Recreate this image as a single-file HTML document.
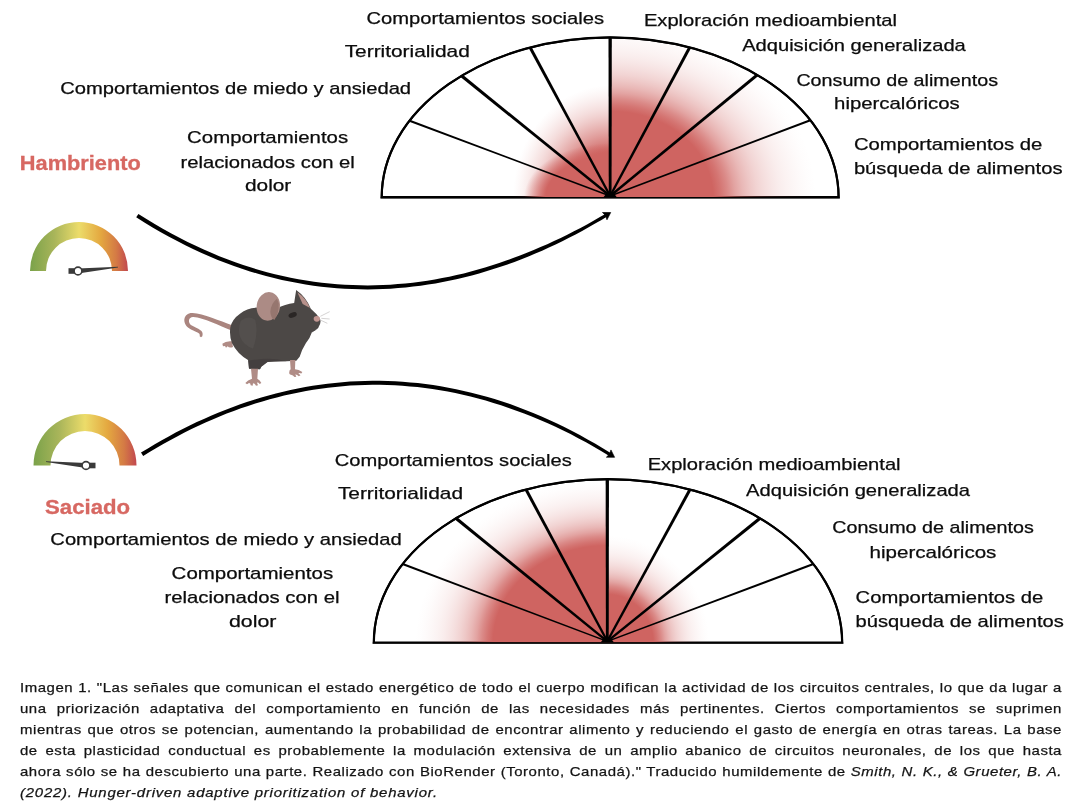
<!DOCTYPE html>
<html lang="es"><head><meta charset="utf-8"><title>Imagen 1</title>
<style>
html,body{margin:0;padding:0;background:#fff;}
body{width:1080px;height:801px;position:relative;overflow:hidden;font-family:"Liberation Sans",sans-serif;}
svg text{font-family:"Liberation Sans",sans-serif;}
.lb{font-size:16.4px;fill:#0c0c0c;stroke:#0c0c0c;stroke-width:0.25px;}
.hd{font-size:19.5px;font-weight:bold;fill:#d76862;stroke:#d76862;stroke-width:0.3px;}
.cl{position:absolute;left:20px;width:947.27px;transform:scaleX(1.1);transform-origin:0 0;font-size:13.6px;line-height:21px;height:21px;color:#141414;white-space:nowrap;text-align:justify;text-align-last:justify;letter-spacing:0.5px;-webkit-text-stroke:0.25px #141414;}
.cl.last{text-align:left;text-align-last:left;letter-spacing:0.7px;}
#wrap{position:absolute;left:0;top:0;width:1080px;height:801px;will-change:transform;transform:translateZ(0);background:#fff;}
</style></head><body><div id="wrap">
<svg width="1080" height="801" viewBox="0 0 1080 801" style="position:absolute;left:0;top:0">
<defs>
<radialGradient id="ftB0" gradientUnits="userSpaceOnUse" cx="0" cy="0" r="1" gradientTransform="translate(610.15 197.2) scale(206 172)"><stop offset="0.000" stop-color="#cf6461" stop-opacity="1.000"/><stop offset="0.500" stop-color="#cf6461" stop-opacity="1.000"/><stop offset="0.536" stop-color="#cf6461" stop-opacity="0.890"/><stop offset="0.571" stop-color="#cf6461" stop-opacity="0.752"/><stop offset="0.607" stop-color="#cf6461" stop-opacity="0.588"/><stop offset="0.643" stop-color="#cf6461" stop-opacity="0.460"/><stop offset="0.679" stop-color="#cf6461" stop-opacity="0.361"/><stop offset="0.714" stop-color="#cf6461" stop-opacity="0.279"/><stop offset="0.750" stop-color="#cf6461" stop-opacity="0.216"/><stop offset="0.786" stop-color="#cf6461" stop-opacity="0.162"/><stop offset="0.821" stop-color="#cf6461" stop-opacity="0.117"/><stop offset="0.857" stop-color="#cf6461" stop-opacity="0.082"/><stop offset="0.893" stop-color="#cf6461" stop-opacity="0.055"/><stop offset="0.929" stop-color="#cf6461" stop-opacity="0.030"/><stop offset="0.964" stop-color="#cf6461" stop-opacity="0.011"/><stop offset="1.000" stop-color="#cf6461" stop-opacity="0.000"/></radialGradient>
<radialGradient id="ftS0" gradientUnits="userSpaceOnUse" cx="0" cy="0" r="1" gradientTransform="translate(610.15 197.2) scale(97 112)"><stop offset="0.000" stop-color="#cf6461" stop-opacity="1.000"/><stop offset="0.400" stop-color="#cf6461" stop-opacity="1.000"/><stop offset="0.443" stop-color="#cf6461" stop-opacity="0.894"/><stop offset="0.486" stop-color="#cf6461" stop-opacity="0.792"/><stop offset="0.529" stop-color="#cf6461" stop-opacity="0.695"/><stop offset="0.571" stop-color="#cf6461" stop-opacity="0.604"/><stop offset="0.614" stop-color="#cf6461" stop-opacity="0.518"/><stop offset="0.657" stop-color="#cf6461" stop-opacity="0.433"/><stop offset="0.700" stop-color="#cf6461" stop-opacity="0.352"/><stop offset="0.743" stop-color="#cf6461" stop-opacity="0.277"/><stop offset="0.786" stop-color="#cf6461" stop-opacity="0.213"/><stop offset="0.829" stop-color="#cf6461" stop-opacity="0.160"/><stop offset="0.871" stop-color="#cf6461" stop-opacity="0.111"/><stop offset="0.914" stop-color="#cf6461" stop-opacity="0.067"/><stop offset="0.957" stop-color="#cf6461" stop-opacity="0.029"/><stop offset="1.000" stop-color="#cf6461" stop-opacity="0.000"/></radialGradient>
<radialGradient id="ftS1" gradientUnits="userSpaceOnUse" cx="0" cy="0" r="1" gradientTransform="translate(610.15 197.2) scale(86 54)"><stop offset="0.000" stop-color="#cf6461" stop-opacity="1.000"/><stop offset="0.750" stop-color="#cf6461" stop-opacity="1.000"/><stop offset="0.768" stop-color="#cf6461" stop-opacity="0.929"/><stop offset="0.786" stop-color="#cf6461" stop-opacity="0.857"/><stop offset="0.804" stop-color="#cf6461" stop-opacity="0.786"/><stop offset="0.821" stop-color="#cf6461" stop-opacity="0.714"/><stop offset="0.839" stop-color="#cf6461" stop-opacity="0.643"/><stop offset="0.857" stop-color="#cf6461" stop-opacity="0.571"/><stop offset="0.875" stop-color="#cf6461" stop-opacity="0.500"/><stop offset="0.893" stop-color="#cf6461" stop-opacity="0.429"/><stop offset="0.911" stop-color="#cf6461" stop-opacity="0.357"/><stop offset="0.929" stop-color="#cf6461" stop-opacity="0.286"/><stop offset="0.946" stop-color="#cf6461" stop-opacity="0.214"/><stop offset="0.964" stop-color="#cf6461" stop-opacity="0.143"/><stop offset="0.982" stop-color="#cf6461" stop-opacity="0.071"/><stop offset="1.000" stop-color="#cf6461" stop-opacity="0.000"/></radialGradient>
<clipPath id="ftclip"><path d="M381.7 197.2 A228.45 159.9 0 0 1 838.5999999999999 197.2 Z"/></clipPath>
</defs>
<path d="M381.7 197.2 A228.45 159.9 0 0 1 838.5999999999999 197.2 Z" fill="none" stroke="#000" stroke-width="2.2" stroke-linejoin="miter"/>
<g clip-path="url(#ftclip)">
<rect x="610.15" y="37.29999999999998" width="230.45" height="159.9" fill="url(#ftB0)"/>
<rect x="379.7" y="37.29999999999998" width="230.45" height="159.9" fill="url(#ftS0)"/>
<rect x="379.7" y="37.29999999999998" width="230.45" height="159.9" fill="url(#ftS1)"/>
</g>
<path d="M381.7 197.2 A228.45 159.9 0 0 1 838.5999999999999 197.2" fill="none" stroke="#000" stroke-width="2.0"/>
<line x1="380.45" y1="197.85" x2="839.8499999999999" y2="197.85" stroke="#000" stroke-width="1.3"/>
<polygon points="610.40,195.34 409.96,119.63 409.19,121.69 609.90,196.66" fill="#000"/>
<polygon points="610.87,195.11 462.49,74.55 460.47,77.04 609.43,196.89" fill="#000"/>
<polygon points="611.16,195.45 531.47,46.71 528.82,48.14 609.14,196.55" fill="#000"/>
<polygon points="611.55,196.00 611.80,37.30 608.50,37.30 608.75,196.00" fill="#000"/>
<polygon points="611.16,196.54 691.10,48.04 688.46,46.62 609.14,195.46" fill="#000"/>
<polygon points="610.88,196.89 758.32,76.12 756.28,73.65 609.42,195.11" fill="#000"/>
<polygon points="610.40,196.65 810.73,121.20 809.95,119.14 609.90,195.35" fill="#000"/>
<path d="M603.65 196.89999999999998 Q607.15 192.2 610.15 191.2 Q613.15 192.2 616.65 196.89999999999998 Z" fill="#000"/>
<defs>
<radialGradient id="fbB0" gradientUnits="userSpaceOnUse" cx="0" cy="0" r="1" gradientTransform="translate(607.3 642.5) scale(192 163)"><stop offset="0.000" stop-color="#cf6461" stop-opacity="1.000"/><stop offset="0.595" stop-color="#cf6461" stop-opacity="1.000"/><stop offset="0.624" stop-color="#cf6461" stop-opacity="0.890"/><stop offset="0.653" stop-color="#cf6461" stop-opacity="0.752"/><stop offset="0.682" stop-color="#cf6461" stop-opacity="0.588"/><stop offset="0.711" stop-color="#cf6461" stop-opacity="0.460"/><stop offset="0.740" stop-color="#cf6461" stop-opacity="0.361"/><stop offset="0.769" stop-color="#cf6461" stop-opacity="0.279"/><stop offset="0.797" stop-color="#cf6461" stop-opacity="0.216"/><stop offset="0.826" stop-color="#cf6461" stop-opacity="0.162"/><stop offset="0.855" stop-color="#cf6461" stop-opacity="0.117"/><stop offset="0.884" stop-color="#cf6461" stop-opacity="0.082"/><stop offset="0.913" stop-color="#cf6461" stop-opacity="0.055"/><stop offset="0.942" stop-color="#cf6461" stop-opacity="0.030"/><stop offset="0.971" stop-color="#cf6461" stop-opacity="0.011"/><stop offset="1.000" stop-color="#cf6461" stop-opacity="0.000"/></radialGradient>
<radialGradient id="fbS0" gradientUnits="userSpaceOnUse" cx="0" cy="0" r="1" gradientTransform="translate(607.3 642.5) scale(102 107)"><stop offset="0.000" stop-color="#cf6461" stop-opacity="1.000"/><stop offset="0.450" stop-color="#cf6461" stop-opacity="1.000"/><stop offset="0.489" stop-color="#cf6461" stop-opacity="0.890"/><stop offset="0.529" stop-color="#cf6461" stop-opacity="0.752"/><stop offset="0.568" stop-color="#cf6461" stop-opacity="0.588"/><stop offset="0.607" stop-color="#cf6461" stop-opacity="0.460"/><stop offset="0.646" stop-color="#cf6461" stop-opacity="0.361"/><stop offset="0.686" stop-color="#cf6461" stop-opacity="0.279"/><stop offset="0.725" stop-color="#cf6461" stop-opacity="0.216"/><stop offset="0.764" stop-color="#cf6461" stop-opacity="0.162"/><stop offset="0.804" stop-color="#cf6461" stop-opacity="0.117"/><stop offset="0.843" stop-color="#cf6461" stop-opacity="0.082"/><stop offset="0.882" stop-color="#cf6461" stop-opacity="0.055"/><stop offset="0.921" stop-color="#cf6461" stop-opacity="0.030"/><stop offset="0.961" stop-color="#cf6461" stop-opacity="0.011"/><stop offset="1.000" stop-color="#cf6461" stop-opacity="0.000"/></radialGradient>
<clipPath id="fbclip"><path d="M373.85 642.5 A234.15 163.3 0 0 1 842.15 642.5 Z"/></clipPath>
</defs>
<path d="M373.85 642.5 A234.15 163.3 0 0 1 842.15 642.5 Z" fill="none" stroke="#000" stroke-width="2.2" stroke-linejoin="miter"/>
<g clip-path="url(#fbclip)">
<rect x="371.15" y="479.2" width="236.15" height="163.3" fill="url(#fbB0)"/>
<rect x="607.3" y="479.2" width="236.15" height="163.3" fill="url(#fbS0)"/>
</g>
<path d="M373.85 642.5 A234.15 163.3 0 0 1 842.15 642.5" fill="none" stroke="#000" stroke-width="2.0"/>
<line x1="372.6" y1="643.15" x2="843.4" y2="643.15" stroke="#000" stroke-width="1.3"/>
<polygon points="607.55,640.65 403.00,563.05 402.23,565.11 607.05,641.95" fill="#000"/>
<polygon points="608.03,640.41 456.94,517.08 454.92,519.57 606.57,642.19" fill="#000"/>
<polygon points="608.31,640.76 527.32,488.83 524.68,490.25 606.29,641.84" fill="#000"/>
<polygon points="608.70,641.30 608.95,479.20 605.65,479.20 605.90,641.30" fill="#000"/>
<polygon points="608.31,641.85 691.32,490.26 688.68,488.82 606.29,640.75" fill="#000"/>
<polygon points="608.02,642.20 761.07,519.57 759.06,517.08 606.58,640.40" fill="#000"/>
<polygon points="607.55,641.96 813.77,565.11 813.00,563.05 607.05,640.64" fill="#000"/>
<path d="M600.8 642.2 Q604.3 637.5 607.3 636.5 Q610.3 637.5 613.8 642.2 Z" fill="#000"/>
<polygon points="136.2,217.3 144.4,222.5 152.6,227.5 160.8,232.2 169.0,236.8 177.2,241.1 185.3,245.3 193.5,249.2 201.6,253.0 209.7,256.5 217.8,259.9 225.9,263.0 233.9,266.0 242.0,268.8 250.0,271.4 258.0,273.8 266.0,276.0 274.0,278.1 281.9,279.9 289.8,281.6 297.7,283.1 305.6,284.5 313.5,285.7 321.3,286.7 329.1,287.5 336.9,288.2 344.6,288.7 352.4,289.1 360.1,289.3 367.7,289.4 375.4,289.3 383.0,289.1 390.6,288.7 398.1,288.1 405.7,287.5 413.2,286.6 420.6,285.7 428.1,284.6 435.5,283.4 442.8,282.0 450.2,280.6 457.5,279.0 464.7,277.2 471.9,275.4 479.1,273.4 486.3,271.3 493.4,269.1 500.5,266.8 507.5,264.4 514.5,261.9 521.5,259.3 528.4,256.5 535.3,253.6 542.1,250.7 548.9,247.6 555.6,244.4 562.3,241.2 569.0,237.8 575.6,234.4 582.1,230.9 588.6,227.3 595.1,223.6 601.5,219.9 607.9,216.0 606.3,213.4 599.9,217.1 593.5,220.8 587.0,224.4 580.5,227.9 573.9,231.3 567.3,234.7 560.7,237.9 554.0,241.1 547.3,244.2 540.5,247.1 533.7,250.0 526.9,252.8 520.0,255.5 513.1,258.1 506.2,260.6 499.2,263.0 492.2,265.3 485.1,267.5 478.0,269.6 470.9,271.5 463.8,273.4 456.6,275.1 449.3,276.7 442.1,278.1 434.8,279.5 427.4,280.7 420.1,281.7 412.7,282.7 405.3,283.5 397.8,284.1 390.3,284.7 382.8,285.1 375.3,285.3 367.7,285.4 360.1,285.3 352.5,285.1 344.9,284.7 337.2,284.2 329.5,283.5 321.8,282.7 314.0,281.7 306.2,280.5 298.4,279.2 290.6,277.7 282.8,276.0 274.9,274.2 267.0,272.2 259.1,269.9 251.2,267.6 243.2,265.0 235.3,262.2 227.3,259.3 219.3,256.2 211.3,252.8 203.2,249.3 195.2,245.6 187.1,241.7 179.0,237.6 170.9,233.3 162.8,228.7 154.7,224.0 146.5,219.1 138.4,213.9" fill="#000"/>
<path d="M0 0 L-7 -4.3 L-6 0 L-7 4.3 Z" fill="#000" stroke="#000" stroke-width="0.6" stroke-linejoin="round" transform="translate(610.7 212.5) rotate(-31.5)"/>
<polygon points="143.2,456.0 150.0,451.8 156.8,447.7 163.7,443.7 170.6,439.9 177.6,436.2 184.5,432.6 191.5,429.1 198.5,425.8 205.5,422.5 212.6,419.4 219.6,416.5 226.7,413.6 233.8,410.9 240.9,408.3 248.1,405.9 255.3,403.6 262.4,401.4 269.7,399.3 276.9,397.4 284.1,395.6 291.4,393.9 298.7,392.4 306.0,391.0 313.3,389.8 320.6,388.7 328.0,387.7 335.3,386.9 342.7,386.2 350.1,385.6 357.5,385.2 365.0,384.9 372.4,384.8 379.9,384.8 387.4,385.0 394.9,385.3 402.4,385.8 409.9,386.4 417.4,387.1 425.0,388.0 432.5,389.1 440.1,390.2 447.7,391.6 455.3,393.1 462.9,394.8 470.5,396.6 478.1,398.5 485.7,400.6 493.4,402.9 501.0,405.3 508.7,407.9 516.4,410.7 524.1,413.5 531.8,416.6 539.5,419.7 547.2,423.1 555.0,426.6 562.7,430.3 570.5,434.1 578.2,438.2 586.0,442.3 593.8,446.7 601.5,451.2 609.3,455.9 611.0,453.2 603.2,448.4 595.4,443.8 587.6,439.4 579.8,435.1 572.1,431.0 564.3,427.1 556.5,423.3 548.8,419.7 541.0,416.3 533.2,413.0 525.5,409.9 517.8,406.9 510.0,404.1 502.3,401.5 494.6,399.1 486.8,396.8 479.1,394.7 471.4,392.7 463.8,390.9 456.1,389.2 448.4,387.7 440.7,386.3 433.1,385.1 425.5,384.0 417.8,383.1 410.2,382.4 402.6,381.8 395.1,381.3 387.5,381.0 379.9,380.8 372.4,380.8 364.9,380.9 357.4,381.2 349.9,381.6 342.4,382.2 334.9,382.9 327.5,383.7 320.1,384.7 312.7,385.8 305.3,387.1 297.9,388.5 290.5,390.0 283.2,391.7 275.9,393.5 268.6,395.5 261.3,397.5 254.1,399.7 246.8,402.1 239.6,404.6 232.4,407.2 225.2,409.9 218.1,412.8 211.0,415.8 203.9,418.9 196.8,422.1 189.7,425.5 182.7,429.0 175.7,432.6 168.7,436.4 161.8,440.3 154.8,444.3 147.9,448.4 141.0,452.6" fill="#000"/>
<path d="M0 0 L-7 -4.3 L-6 0 L-7 4.3 Z" fill="#000" stroke="#000" stroke-width="0.6" stroke-linejoin="round" transform="translate(614.6 457.3) rotate(32.2)"/>
<defs><linearGradient id="g1g" gradientUnits="userSpaceOnUse" x1="30" y1="0" x2="128" y2="0"><stop offset="0" stop-color="#7aa24a"/><stop offset="0.25" stop-color="#a9b55a"/><stop offset="0.5" stop-color="#ecdc6a"/><stop offset="0.72" stop-color="#e4a840"/><stop offset="0.88" stop-color="#d47a45"/><stop offset="1" stop-color="#c2484f"/></linearGradient></defs>
<path d="M30 271 A49 49 0 0 1 128 271 L112 271 A33 33 0 0 0 46 271 Z" fill="url(#g1g)"/>
<path d="M78 268.4 L118 266.8 L118 267.6 L78 273.6 Z" fill="#3a3a3a"/>
<rect x="68.5" y="268.2" width="6.5" height="5.6" fill="#3a3a3a"/>
<circle cx="78" cy="271" r="3.9" fill="#fff" stroke="#3a3a3a" stroke-width="1.6"/>
<defs><linearGradient id="g2g" gradientUnits="userSpaceOnUse" x1="33.5" y1="0" x2="136.5" y2="0"><stop offset="0" stop-color="#7aa24a"/><stop offset="0.25" stop-color="#a9b55a"/><stop offset="0.5" stop-color="#ecdc6a"/><stop offset="0.72" stop-color="#e4a840"/><stop offset="0.88" stop-color="#d47a45"/><stop offset="1" stop-color="#c2484f"/></linearGradient></defs>
<path d="M33.5 465.5 A51.5 51.5 0 0 1 136.5 465.5 L119.5 465.5 A34.5 34.5 0 0 0 50.5 465.5 Z" fill="url(#g2g)"/>
<path d="M86 462.9 L46 461.3 L46 462.1 L86 468.1 Z" fill="#3a3a3a"/>
<rect x="89" y="462.7" width="6.5" height="5.6" fill="#3a3a3a"/>
<circle cx="86" cy="465.5" r="3.9" fill="#fff" stroke="#3a3a3a" stroke-width="1.6"/>
<g transform="translate(170 270) scale(0.166667)">
<path d="M372 332 C300 305 200 262 135 258 C80 256 70 318 112 348 C150 374 186 372 178 398 Q186 408 194 398 C206 360 168 356 128 332 C104 314 112 280 140 282 C200 286 300 335 366 362 Z" fill="#aa857f"/>
<path d="M314 443 Q335 424 372 428 L378 462 Q356 470 346 458 L336 466 L330 456 L318 458 Z" fill="#b08c86"/>
<path d="M362 345 Q372 295 420 262 Q470 222 540 226 Q600 232 640 232 Q690 205 745 198 L757 120 Q815 160 845 232 Q880 262 900 292 Q910 318 890 345 Q872 362 852 372 Q840 410 815 440 Q790 480 778 520 L758 545 L700 548 Q640 545 585 552 L548 580 L540 596 L474 592 L468 540 Q405 505 372 440 Q355 395 362 345 Z" fill="#4c4846"/>
<path d="M425 305 Q470 268 512 300 Q532 380 498 472 Q440 450 420 400 Q405 350 425 305 Z" fill="#5a5553" opacity="0.5"/>
<path d="M470 545 Q600 520 700 548 L585 552 L548 580 L540 596 L474 592 Z" fill="#3f3b3a" opacity="0.6"/>
<ellipse cx="590" cy="218" rx="70" ry="86" fill="#ac8b85" transform="rotate(8 590 218)"/>
<path d="M642 172 Q606 198 602 250 Q604 285 626 300 Q656 260 652 200 Z" fill="#96766f"/>
<path d="M764 133 Q818 170 840 228 L796 204 Z" fill="#b7918b"/>
<ellipse cx="736" cy="270" rx="26" ry="15" fill="#2a2625" transform="rotate(-22 736 270)"/>
<ellipse cx="881" cy="293" rx="19" ry="17" fill="#c29691"/>
<path d="M852 372 Q872 362 890 345" stroke="#35312f" stroke-width="4" fill="none"/>
<path d="M902 278 L958 250 M908 290 L958 294 M906 302 L944 320" stroke="#9a9593" stroke-width="2.5" fill="none"/>
<path d="M720 540 L752 540 L750 596 Q772 598 794 612 L788 621 Q777 616 770 619 L783 632 L773 637 Q760 625 752 627 L758 640 L747 642 Q738 629 726 628 Q712 626 716 610 Q716 600 724 596 Z" fill="#b08c86"/>
<path d="M486 592 L528 592 L524 652 Q540 660 548 678 L538 684 Q530 674 522 676 L528 692 L516 694 Q508 680 498 680 L496 694 L484 692 Q484 678 474 678 L462 686 L452 678 Q466 660 492 652 Z" fill="#b08c86"/>
</g>

<text class="lb" x="366.4" y="23.9" textLength="237.7" lengthAdjust="spacingAndGlyphs">Comportamientos sociales</text>
<text class="lb" x="344.7" y="57.0" textLength="125.1" lengthAdjust="spacingAndGlyphs">Territorialidad</text>
<text class="lb" x="60.2" y="94.2" textLength="350.9" lengthAdjust="spacingAndGlyphs">Comportamientos de miedo y ansiedad</text>
<text class="lb" x="187.1" y="143.2" textLength="161.0" lengthAdjust="spacingAndGlyphs">Comportamientos</text>
<text class="lb" x="180.5" y="167.5" textLength="174.3" lengthAdjust="spacingAndGlyphs">relacionados con el</text>
<text class="lb" x="245.0" y="191.2" textLength="46.3" lengthAdjust="spacingAndGlyphs">dolor</text>
<text class="lb" x="643.9" y="25.7" textLength="253.1" lengthAdjust="spacingAndGlyphs">Exploración medioambiental</text>
<text class="lb" x="742.2" y="50.7" textLength="223.6" lengthAdjust="spacingAndGlyphs">Adquisición generalizada</text>
<text class="lb" x="796.4" y="85.6" textLength="201.6" lengthAdjust="spacingAndGlyphs">Consumo de alimentos</text>
<text class="lb" x="834.1" y="108.9" textLength="125.6" lengthAdjust="spacingAndGlyphs">hipercalóricos</text>
<text class="lb" x="853.9" y="150.3" textLength="188.5" lengthAdjust="spacingAndGlyphs">Comportamientos de</text>
<text class="lb" x="853.9" y="173.8" textLength="208.6" lengthAdjust="spacingAndGlyphs">búsqueda de alimentos</text>
<text class="lb" x="334.7" y="465.8" textLength="237.1" lengthAdjust="spacingAndGlyphs">Comportamientos sociales</text>
<text class="lb" x="337.9" y="498.7" textLength="125.1" lengthAdjust="spacingAndGlyphs">Territorialidad</text>
<text class="lb" x="50.3" y="545.4" textLength="351.4" lengthAdjust="spacingAndGlyphs">Comportamientos de miedo y ansiedad</text>
<text class="lb" x="171.6" y="578.7" textLength="161.6" lengthAdjust="spacingAndGlyphs">Comportamientos</text>
<text class="lb" x="164.5" y="603.0" textLength="175.0" lengthAdjust="spacingAndGlyphs">relacionados con el</text>
<text class="lb" x="229.0" y="626.8" textLength="47.4" lengthAdjust="spacingAndGlyphs">dolor</text>
<text class="lb" x="647.7" y="469.8" textLength="252.9" lengthAdjust="spacingAndGlyphs">Exploración medioambiental</text>
<text class="lb" x="746.1" y="496.0" textLength="223.9" lengthAdjust="spacingAndGlyphs">Adquisición generalizada</text>
<text class="lb" x="832.2" y="533.4" textLength="201.6" lengthAdjust="spacingAndGlyphs">Consumo de alimentos</text>
<text class="lb" x="869.6" y="557.5" textLength="126.8" lengthAdjust="spacingAndGlyphs">hipercalóricos</text>
<text class="lb" x="855.6" y="603.1" textLength="187.7" lengthAdjust="spacingAndGlyphs">Comportamientos de</text>
<text class="lb" x="855.6" y="627.0" textLength="208.2" lengthAdjust="spacingAndGlyphs">búsqueda de alimentos</text>
<text class="hd" x="19.8" y="169.7" textLength="121.0" lengthAdjust="spacingAndGlyphs">Hambriento</text>
<text class="hd" x="45.0" y="513.7" textLength="85.1" lengthAdjust="spacingAndGlyphs">Saciado</text>
</svg>
<div class="cl" style="top:677.0px">Imagen 1. "Las señales que comunican el estado energético de todo el cuerpo modifican la actividad de los circuitos centrales, lo que da lugar a</div>
<div class="cl" style="top:697.9px">una priorización adaptativa del comportamiento en función de las necesidades más pertinentes. Ciertos comportamientos se suprimen</div>
<div class="cl" style="top:718.8px">mientras que otros se potencian, aumentando la probabilidad de encontrar alimento y reduciendo el gasto de energía en otras tareas. La base</div>
<div class="cl" style="top:739.7px">de esta plasticidad conductual es probablemente la modulación extensiva de un amplio abanico de circuitos neuronales, de los que hasta</div>
<div class="cl" style="top:760.6px">ahora sólo se ha descubierto una parte. Realizado con BioRender (Toronto, Canadá)." Traducido humildemente de <i>Smith, N. K., &amp; Grueter, B. A.</i></div>
<div class="cl last" style="top:781.5px"><i>(2022). Hunger-driven adaptive prioritization of behavior.</i></div>
</div></body></html>
